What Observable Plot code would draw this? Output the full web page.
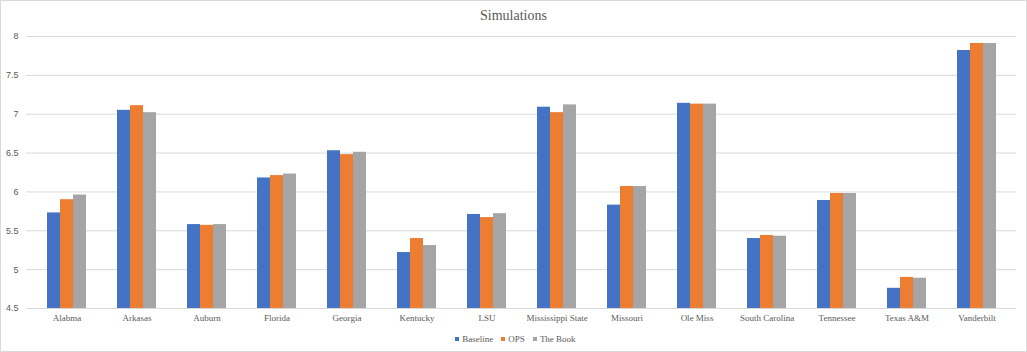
<!DOCTYPE html>
<html>
<head>
<meta charset="utf-8">
<script src="https://cdn.jsdelivr.net/npm/d3@7"></script>
<script src="https://cdn.jsdelivr.net/npm/@observablehq/plot@0.6"></script>
<style>
  html, body { margin: 0; padding: 0; background: #fff; }
  #chart { width: 1027px; height: 352px; box-sizing: border-box; border: 1px solid #d9d9d9; position: relative; overflow: hidden; }
  #title { height: 27px; line-height: 30px; text-align: center; font-family: "Liberation Serif", "Times New Roman", serif; font-size: 14px; color: #595959; }
  #plot { position: relative; height: 301px; }
  #plot svg { position: absolute; left: 0; top: 0; }
  #legend { display: flex; justify-content: center; align-items: center; gap: 8px; height: 20px; font-family: "Liberation Serif", "Times New Roman", serif; font-size: 9px; color: #595959; padding-left: 4px; }
  .item { display: flex; align-items: center; gap: 3px; }
  .sw { width: 4px; height: 4px; display: inline-block; }
</style>
</head>
<body>
<div id="chart">
  <div id="title">Simulations</div>
  <div id="plot"></div>
  <div id="legend"></div>
</div>
<script>
const categories = ["Alabma", "Arkasas", "Auburn", "Florida", "Georgia", "Kentucky", "LSU", "Mississippi State", "Missouri", "Ole Miss", "South Carolina", "Tennessee", "Texas A&M", "Vanderbilt"];
const series = ["Baseline", "OPS", "The Book"];
const baseline = [5.73, 7.05, 5.58, 6.18, 6.53, 5.22, 5.71, 7.09, 5.83, 7.14, 5.40, 5.89, 4.76, 7.82];
const ops      = [5.90, 7.11, 5.57, 6.21, 6.48, 5.40, 5.67, 7.02, 6.07, 7.13, 5.44, 5.98, 4.90, 7.91];
const theBook  = [5.96, 7.02, 5.58, 6.23, 6.51, 5.31, 5.72, 7.12, 6.07, 7.13, 5.43, 5.98, 4.89, 7.91];
const yTicks = [4.5, 5, 5.5, 6, 6.5, 7, 7.5, 8];
const colors = ["#4472C4", "#ED7D31", "#A5A5A5"];

const seriesValues = [baseline, ops, theBook];
const data = categories.flatMap((c, i) => series.map((s, j) => ({category: c, series: s, value: seriesValues[j][i]})));
const yMin = yTicks[0], yMax = yTicks[yTicks.length - 1];

const common = {
  width: 1025,
  height: 301,
  marginLeft: 25,
  marginRight: 10,
  marginTop: 8,
  marginBottom: 21,
  style: {fontFamily: "'Liberation Serif', 'Times New Roman', serif", fontSize: "9px", color: "#595959", background: "transparent"},
  y: {domain: [yMin, yMax], axis: null}
};

// Layer 1: gridlines and y axis labels across the whole plot area
const gridPlot = Plot.plot({
  ...common,
  marks: [
    Plot.ruleY(yTicks, {stroke: "#d9d9d9", strokeWidth: 1}),
    Plot.axisY(yTicks, {tickSize: 0, tickPadding: 8, tickFormat: d => String(d), label: null, fill: "#595959", fontFamily: "'Liberation Sans', Arial, sans-serif", fontSize: 9})
  ]
});

// Layer 2: grouped bars and category labels
const barPlot = Plot.plot({
  ...common,
  fx: {domain: categories, paddingInner: 0.42, paddingOuter: 0.21, label: null, axis: "bottom", tickSize: 0, tickPadding: 6},
  x: {domain: series, padding: 0, axis: null},
  color: {domain: series, range: colors},
  marks: [
    Plot.barY(data, {fx: "category", x: "series", y1: yMin, y2: "value", fill: "series"})
  ]
});

const holder = document.getElementById("plot");
holder.appendChild(gridPlot);
holder.appendChild(barPlot);

const legend = document.getElementById("legend");
series.forEach((s, j) => {
  const it = document.createElement("div");
  it.className = "item";
  const sw = document.createElement("span");
  sw.className = "sw";
  sw.style.background = colors[j];
  const t = document.createElement("span");
  t.textContent = s;
  it.appendChild(sw);
  it.appendChild(t);
  legend.appendChild(it);
});
</script>
</body>
</html>
